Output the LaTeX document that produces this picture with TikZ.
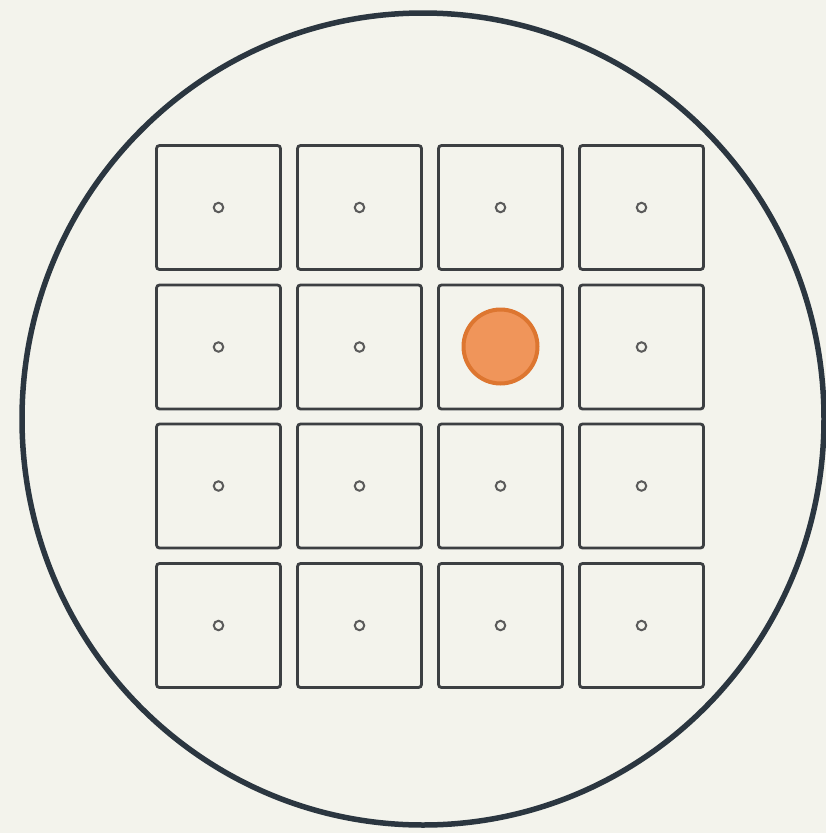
\documentclass[tikz,border=0pt]{standalone}
\begin{document}
\begin{tikzpicture}[x=1pt,y=-1pt,
  cell/.style={draw=cellgray,line width=2.8pt,rounded corners=3pt,minimum width=124pt,minimum height=124pt,inner sep=0pt},
  dot/.style={circle,draw=dotgray,line width=2pt,minimum size=9.5pt,inner sep=0pt},
  marker/.style={circle,draw=orangedark,fill=orangefill,line width=4pt,minimum size=74pt,inner sep=0pt}]
\definecolor{bg}{HTML}{F3F3EC}
\definecolor{ring}{HTML}{2B3640}
\definecolor{cellgray}{HTML}{3C3F42}
\definecolor{dotgray}{HTML}{5A5A5A}
\definecolor{orangefill}{HTML}{F0955A}
\definecolor{orangedark}{HTML}{DD7630}
\fill[bg] (0,0) rectangle (826,833);
\useasboundingbox (0,0) rectangle (826,833);
\draw[ring,line width=5.5pt] (423,419) ellipse [x radius=401, y radius=406];
\foreach \c/\x in {1/218.5,2/359.5,3/500.5,4/641.5}{
  \foreach \r/\y in {1/207.5,2/347,3/486,4/625.5}{
    \node[cell] (c\r\c) at (\x,\y) {};
    \node[dot] (d\r\c) at (\x,\y) {};
  }
}
\node[marker] (m) at (500.5,346.5) {};
\end{tikzpicture}
\end{document}
